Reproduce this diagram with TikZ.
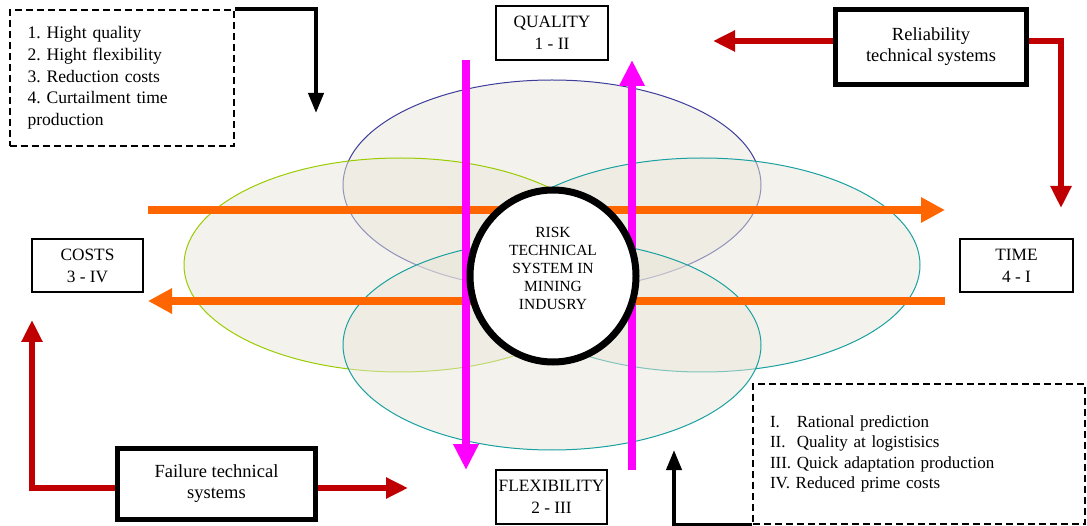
\documentclass[tikz,border=0pt]{standalone}
\usepackage{fontspec}
\setmainfont{Liberation Serif}
\usetikzlibrary{arrows.meta,shapes.geometric}
\definecolor{blobfill}{HTML}{E8E6DA}
\definecolor{navyline}{HTML}{3C3C9A}
\definecolor{limeline}{HTML}{99CC00}
\definecolor{tealline}{HTML}{1AA0A0}
\definecolor{flowred}{HTML}{C00000}
\definecolor{floworange}{HTML}{FF6600}
\definecolor{flowpink}{HTML}{FF00FF}
\frenchspacing
\begin{document}
\begin{tikzpicture}[x=1pt,y=-1pt,
    blob/.style={fill=blobfill,fill opacity=0.5,line width=1pt},
    orangearrow/.style={draw=floworange,line width=8pt,-{Triangle[length=24pt,width=24pt]}},
    pinkarrow/.style={draw=flowpink,line width=8pt,-{Triangle[length=26pt,width=24pt]}},
    redarrow/.style={draw=flowred,line width=6pt,-{Triangle[length=22pt,width=20pt]}},
    blackarrow/.style={draw=black,line width=4pt,-{Triangle[length=20pt,width=15pt]}}]
    \useasboundingbox (0,0) rectangle (1087,526);
    % overlapping fields
    \draw[blob,draw=navyline] (552,185) ellipse [x radius=209, y radius=105];
    \draw[blob,draw=limeline] (400,265) ellipse [x radius=216, y radius=107];
    \draw[blob,draw=tealline] (702,265) ellipse [x radius=218, y radius=107];
    \draw[blob,draw=tealline] (552,345) ellipse [x radius=209, y radius=105];
    % free ends of the flows
    \coordinate (oa) at (148,210);
    \coordinate (ob) at (945,210);
    \coordinate (oc) at (945,301);
    \coordinate (od) at (148,301);
    \coordinate (ma) at (466,60);
    \coordinate (mb) at (466,470);
    \coordinate (mc) at (632,470);
    \coordinate (md) at (632,60);
    \draw[orangearrow] (oa) -- (ob);
    \draw[orangearrow] (oc) -- (od);
    \draw[pinkarrow] (ma) -- (mb);
    \draw[pinkarrow] (mc) -- (md);
    % centre
    \node[draw,ellipse,line width=7pt,fill=white,minimum width=166pt,minimum height=172pt,inner sep=0pt] (risk) at (553,276) {};
    \node[align=center,font=\fontsize{15.5}{18}\selectfont] (risktext) at ([yshift=7.5pt]risk.center) {RISK\\TECHNICAL\\SYSTEM IN\\MINING\\INDUSRY};
    % criteria
    \begin{scope}[every node/.style={draw,line width=1.5pt,fill=white,inner sep=0pt,align=center,font=\fontsize{17.3}{22}\selectfont}]
        \node[minimum width=112pt,minimum height=54pt] (quality) at (552,33) {QUALITY\\1 - II};
        \node[minimum width=111pt,minimum height=53pt] (costs) at (87.5,265.5) {COSTS\\3 - IV};
        \node[minimum width=113pt,minimum height=53pt] (time) at (1016.5,265.5) {TIME\\4 - I};
        \node[minimum width=111pt,minimum height=54pt] (flex) at (551.5,497) {FLEXIBILITY\\2 - III};
    \end{scope}
    \begin{scope}[every node/.style={draw,line width=5pt,inner sep=0pt,align=center,font=\fontsize{18.5}{21}\selectfont}]
        \node[minimum width=191pt,minimum height=75pt] (rel) at (931,47) {Reliability\\technical systems};
        \node[minimum width=198pt,minimum height=71pt] (fail) at (216.5,484) {Failure technical\\systems};
    \end{scope}
    \begin{scope}[every node/.style={draw,line width=2pt,dash pattern=on 7pt off 4pt,inner ysep=0pt,align=left}]
        \node[minimum width=223pt,minimum height=136pt,text width=188pt,inner xsep=18pt,font=\fontsize{17.6}{21.7}\selectfont] (tasks) at (121.5,78)
            {1. Hight quality\\2. Hight flexibility\\3. Reduction costs\\4. Curtailment time\\production};
        \node[minimum width=332pt,minimum height=140pt,text width=298pt,inner xsep=17pt,font=\fontsize{17}{20.3}\selectfont] (goals) at (919,454)
            {I.\ \ \ Rational prediction\\II.\ \ Quality at logistisics\\III. Quick adaptation production\\IV. Reduced prime costs};
    \end{scope}
    % connectors
    \coordinate (qtip) at (316,113);
    \coordinate (ptip) at (674,450);
    \coordinate (relleft) at (713,41);
    \coordinate (timetip) at (1061,208);
    \coordinate (coststip) at (32,320);
    \coordinate (flextip) at (408,488);
    \draw[blackarrow] (tasks.north east) -| (qtip);
    \draw[blackarrow] (goals.south west) -| (ptip);
    \draw[redarrow] (rel.west |- relleft) -- (relleft);
    \draw[redarrow] (rel.east |- relleft) -| (timetip);
    \draw[redarrow] (fail.west |- flextip) -| (coststip);
    \draw[redarrow] (fail.east |- flextip) -- (flextip);
\end{tikzpicture}
\end{document}
